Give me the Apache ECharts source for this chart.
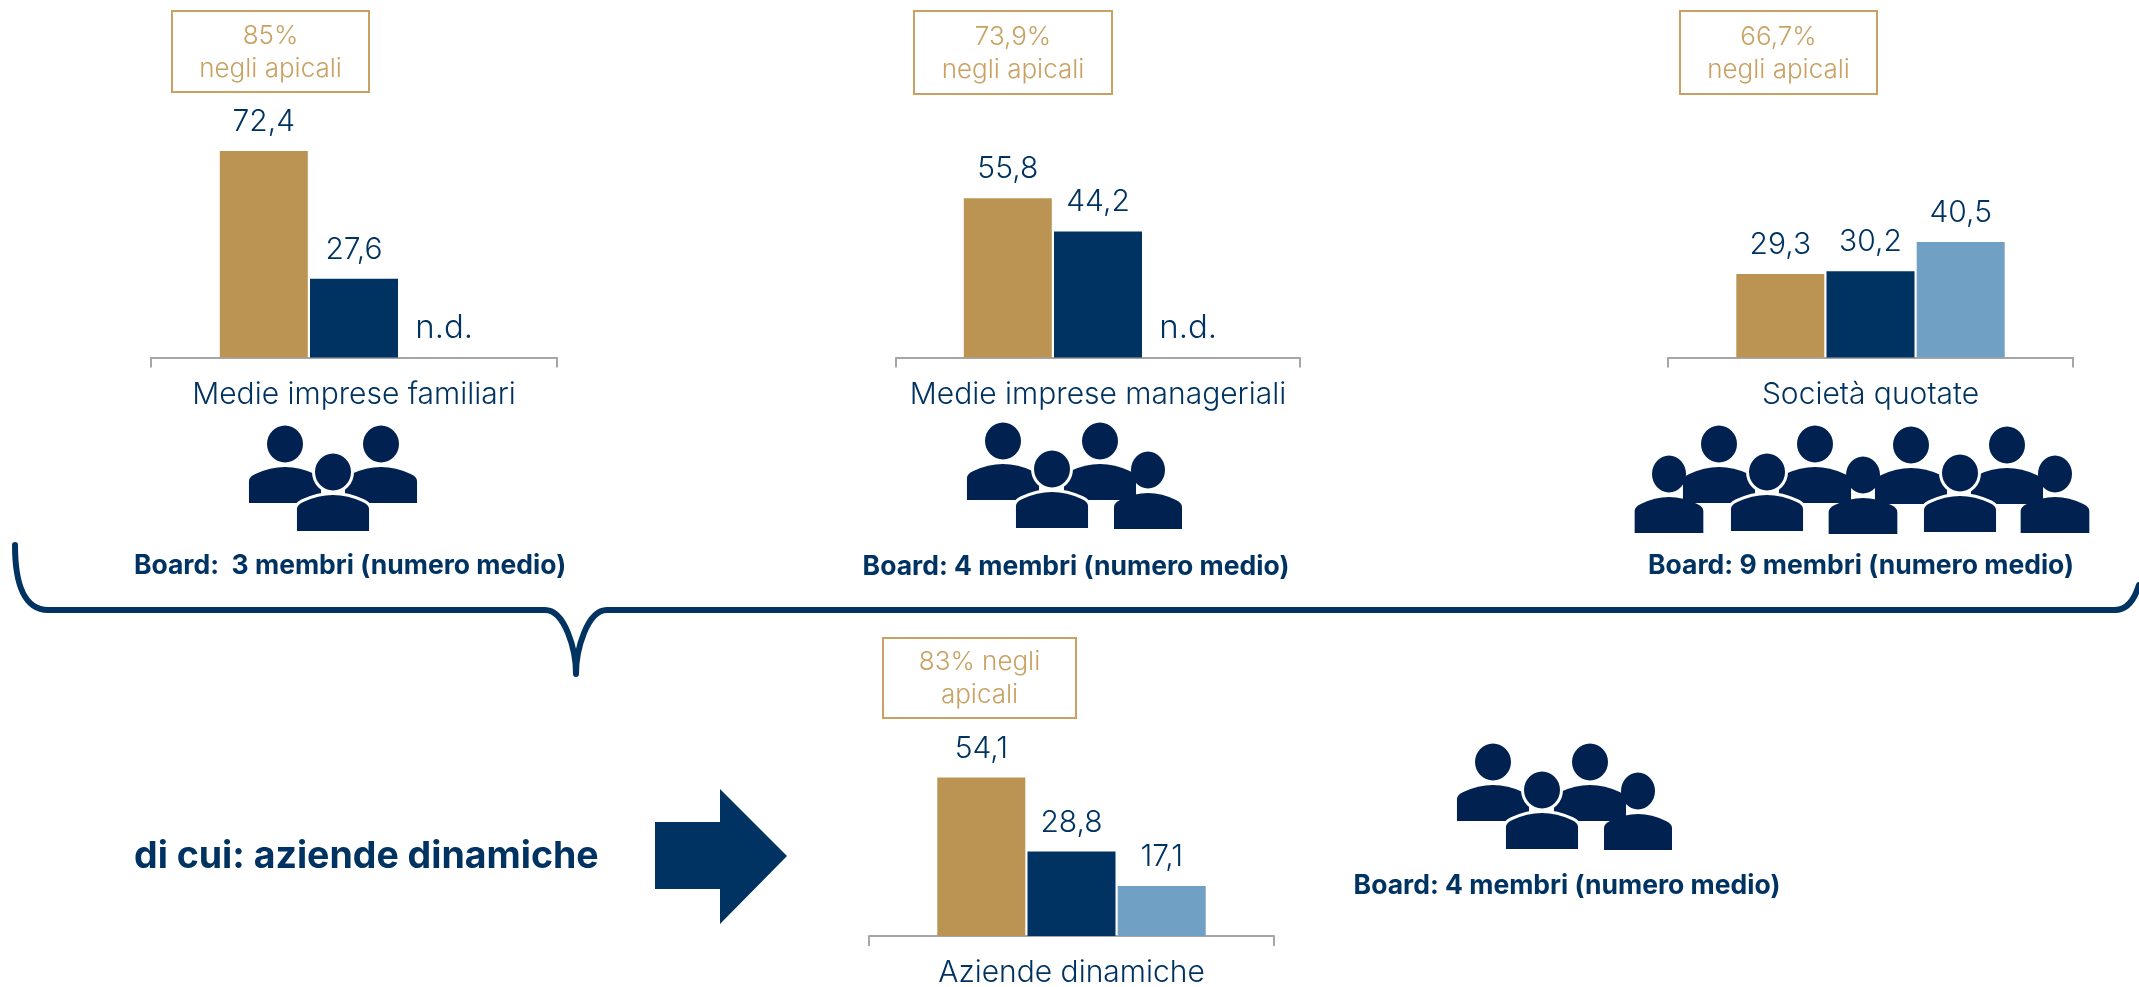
<!DOCTYPE html>
<html>
<head>
<meta charset="utf-8">
<style>
  html, body { margin: 0; padding: 0; background: #fff; }
  #main { width: 2139px; height: 987px; }
</style>
<script src="https://cdn.jsdelivr.net/npm/echarts@6/dist/echarts.min.js"></script>
</head>
<body>
<div id="main"></div>
<script>
const categories = ["Medie imprese familiari", "Medie imprese manageriali", "Società quotate", "Aziende dinamiche"];
// null = n.d.
const valuesGold = [72.4, 55.8, 29.3, 54.1];
const valuesNavy = [27.6, 44.2, 30.2, 28.8];
const valuesBlue = [null, null, 40.5, 17.1];
const apicali = ["85%\nnegli apicali", "73,9%\nnegli apicali", "66,7%\nnegli apicali", "83% negli\napicali"];
const boardLabels = ["Board:  3 membri (numero medio)", "Board: 4 membri (numero medio)", "Board: 9 membri (numero medio)", "Board: 4 membri (numero medio)"];

const GOLD = "#BB9454", NAVY = "#003361", BLUE = "#71A0C5", ICON = "#012250", BOX = "#C9A263";
const FONT = "Inter, 'Noto Sans', sans-serif";

// grid in pixel
const panels = [
  { left: 151, width: 406, base: 357.5, max: 80, scale: 2.852, margin: 22 },
  { left: 896, width: 404, base: 357.5, max: 80, scale: 2.852, margin: 22 },
  { left: 1668, width: 405, base: 357.5, max: 80, scale: 2.852, margin: 22 },
  { left: 869, width: 405, base: 936, max: 60, scale: 2.93, margin: 22 },
];
const boxes = [
  [172, 11, 197, 81],
  [914, 11, 198, 83],
  [1680, 11, 197, 83],
  [883, 638, 193, 80],
];
const boardPos = [[350, 566], [1076, 567], [1861, 566], [1567, 886]];

function valueLabel() {
  return { show: true, position: "top", distance: 14, color: NAVY, fontSize: 30, fontWeight: 300, fontFamily: FONT,
    formatter: (p) => String(p.value).replace(".", ",") };
}

let grid = [], xAxis = [], yAxis = [], series = [];
panels.forEach((p, i) => {
  let h = p.max * p.scale;
  // outerBoundsMode none: the last label touches the bottom edge, grid must not shrink
  grid.push({ left: p.left, width: p.width, top: p.base - h, height: h, outerBoundsMode: "none" });
  xAxis.push({
    gridIndex: i, type: "category", data: [categories[i]],
    axisLine: { lineStyle: { color: "#A6A6A6", width: 2 } },
    axisTick: { show: true, length: 10, lineStyle: { color: "#A6A6A6", width: 2 } },
    axisLabel: { color: NAVY, fontSize: 30, fontWeight: 300, fontFamily: FONT, margin: p.margin, interval: 0 },
  });
  yAxis.push({ gridIndex: i, type: "value", min: 0, max: p.max, show: false });
  let bar = (name, color, value) => {
    // n.d. has no bar, only the text
    let item = value === null
      ? { value: 0, label: { formatter: "n.d.", distance: 13, fontSize: 33 } }
      : value;
    return {
      name, type: "bar", xAxisIndex: i, yAxisIndex: i,
      barWidth: 88, barGap: "2.5%", data: [item],
      itemStyle: { color }, label: valueLabel(), silent: true, animation: false,
    };
  };
  series.push(bar("a", GOLD, valuesGold[i]), bar("b", NAVY, valuesNavy[i]), bar("c", BLUE, valuesBlue[i]));
});

// shapes the graphic component does not have by itself
echarts.graphic.registerShape("personBody", echarts.graphic.extendPath(
  "M-34,59 L-34,37 Q-34,33 -28,30 Q-14,23 0,23 Q14,23 28,30 Q34,33 34,37 L34,59 Z", {}));
echarts.graphic.registerShape("brace", echarts.graphic.extendPath(
  "M15,545 C15,585 25,610 48,610 L545,610 C565,610 576,650 576,674 C576,650 587,610 607,610 L2115,610 C2128,610 2135,598 2139,585", {}));

function person(x, y, sx, rx, halo) {
  let parts = [];
  let sh = { x, y, scaleX: sx };
  if (halo) {
    // white edge behind the shape, cuts into the people at the back
    let st = { fill: "#fff", stroke: "#fff", lineWidth: 6 };
    parts.push({ type: "personBody", ...sh, style: st });
    parts.push({ type: "ellipse", x, y, shape: { cx: 0, cy: 0, rx: rx, ry: 18.5 }, style: st });
  }
  parts.push({ type: "personBody", ...sh, style: { fill: ICON } });
  parts.push({ type: "ellipse", x, y, shape: { cx: 0, cy: 0, rx: rx, ry: 18.5 }, style: { fill: ICON } });
  return parts;
}
// x, y of the head, body width factor, head radius
const iconRear = [[285, 444, 1.06, 18], [381, 444, 1.06, 18], [1003, 441, 1.06, 18], [1100, 441, 1.06, 18], [1719, 444, 1.06, 18], [1815, 444, 1.06, 18], [1911, 445, 1.06, 18], [2007, 445, 1.06, 18], [1493, 762, 1.06, 18], [1590, 762, 1.06, 18]];
const iconFront = [[333, 472, 1.06, 18], [1052, 469, 1.06, 18], [1767, 472, 1.06, 18], [1960, 473, 1.06, 18], [1542, 790, 1.06, 18]];
const iconSmall = [[1148, 470, 1, 17], [1669, 474, 1.01, 17], [1863, 475, 1.01, 17], [2055, 474, 1.01, 17], [1638, 791, 1, 17]];

let graphic = [];
iconRear.forEach((c) => graphic.push(...person(c[0], c[1], c[2], c[3], false)));
iconFront.forEach((c) => graphic.push(...person(c[0], c[1], c[2], c[3], true)));
iconSmall.forEach((c) => graphic.push(...person(c[0], c[1], c[2], c[3], false)));

boxes.forEach((b, i) => {
  graphic.push({ type: "rect", shape: { x: b[0], y: b[1], width: b[2], height: b[3] },
    style: { fill: "none", stroke: BOX, lineWidth: 2 } });
  graphic.push({ type: "text", x: b[0] + b[2] / 2, y: b[1] + b[3] / 2 + 1,
    style: { text: apicali[i], fill: BOX, font: "300 26px " + FONT, align: "center", verticalAlign: "middle", lineHeight: 33 } });
});
boardLabels.forEach((t, i) => {
  graphic.push({ type: "text", x: boardPos[i][0], y: boardPos[i][1],
    style: { text: t, fill: NAVY, font: "bold 26.5px " + FONT, align: "center", verticalAlign: "middle" } });
});
graphic.push({ type: "text", x: 134, y: 857,
  style: { text: "di cui: aziende dinamiche", fill: NAVY, font: "bold 37.5px " + FONT, align: "left", verticalAlign: "middle" } });
graphic.push({ type: "brace", style: { fill: "none", stroke: NAVY, lineWidth: 6, lineCap: "round", lineJoin: "round" } });
// arrow
graphic.push({ type: "polygon", shape: { points: [[655, 822], [720, 822], [720, 789], [787, 856], [720, 924], [720, 889], [655, 889]] },
  style: { fill: NAVY } });

const myChart = echarts.init(document.getElementById("main"));
myChart.setOption({
  backgroundColor: "#fff",
  animation: false,
  grid, xAxis, yAxis, series, graphic,
});
window.addEventListener("resize", () => myChart.resize());
</script>
</body>
</html>
